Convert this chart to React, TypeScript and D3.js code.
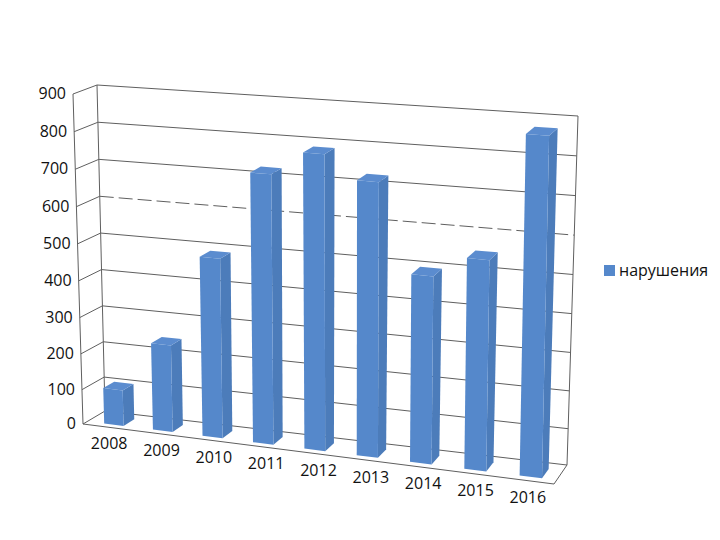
import * as d3 from 'd3'

const YEARS = ['2008', '2009', '2010', '2011', '2012', '2013', '2014', '2015', '2016']
const VIOLATIONS = [103, 243, 490, 724, 787, 727, 498, 553, 878]
const Y_TICKS = [0, 100, 200, 300, 400, 500, 600, 700, 800, 900]
const SERIES_NAME = 'нарушения'

const FONT = '"Open Sans", "Noto Sans", sans-serif'
const GRID = '#5f5f5f'

// box corners of the 3D chart as they land on the page
const FRONT = { bl: [83, 424], br: [554, 484], tl: [73, 94], tr: [561, 131] }
const BACK = { bl: [105, 411], br: [567, 465], tl: [97, 85], tr: [578, 116] }

const uScale = d3.scaleLinear().domain([0, YEARS.length]).range([0, 1])
const vScale = d3.scalePow().exponent(1.03).domain([0, 900]).range([0, 1])

const BAR_WIDTH = 0.4
// bars drift with the perspective, labels and grid do not
const barU = (u: number) => u / (1 + 0.085 * (1 - u)) + 0.005

const mix = (a: number[], b: number[], t: number) => [a[0] + (b[0] - a[0]) * t, a[1] + (b[1] - a[1]) * t]

function project(u: number, v: number, w: number) {
  const face = (f: typeof FRONT) => mix(mix(f.bl, f.br, u), mix(f.tl, f.tr, u), v)
  return mix(face(FRONT), face(BACK), w)
}

const line = d3.line<number[]>()
const poly = (pts: number[][]) => line(pts) + 'Z'

export default function App() {
  const v0 = vScale(0)
  const v1 = vScale(900)
  return (
    <svg width={720} height={540} style={{ position: 'absolute', left: 0, top: 0 }}>
      <rect width={720} height={540} fill="#fff" />
      <g fill="none" stroke={GRID} strokeWidth={1}>
        {Y_TICKS.map((t) => {
          const v = vScale(t)
          return (
            <g key={t}>
              <path d={line([project(0, v, 0), project(0, v, 1)]) as string} />
              <path
                d={line([project(0, v, 1), project(1, v, 1)]) as string}
                strokeDasharray={t === 600 ? '14 5' : undefined}
              />
            </g>
          )
        })}
        <path d={line([project(0, v0, 0), project(0, v1, 0)]) as string} />
        <path d={line([project(0, v0, 1), project(0, v1, 1)]) as string} />
        <path d={line([project(1, v0, 1), project(1, v1, 1)]) as string} />
        <path d={line([project(0, v0, 0), project(1, v0, 0), project(1, v0, 1)]) as string} />
      </g>

      {VIOLATIONS.map((val, i) => {
        const a = barU(uScale(i + 0.5 - BAR_WIDTH / 2))
        const b = barU(uScale(i + 0.5 + BAR_WIDTH / 2))
        const vt = vScale(val)
        const w0 = 0.2
        const w1 = 0.7
        return (
          <g key={YEARS[i]}>
            <path
              d={poly([project(b, v0, w0), project(b, v0, w1), project(b, vt, w1), project(b, vt, w0)])}
              fill="#4c7cba"
            />
            <path
              d={poly([project(a, vt, w0), project(b, vt, w0), project(b, vt, w1), project(a, vt, w1)])}
              fill="#5b8ccf"
            />
            <path
              d={poly([project(a, v0, w0), project(b, v0, w0), project(b, vt, w0), project(a, vt, w0)])}
              fill="#5588cb"
            />
          </g>
        )
      })}

      <g fontFamily={FONT} fontSize={16} fill="#111">
        {Y_TICKS.map((t) => {
          const [x, y] = project(0, vScale(t), 0)
          return (
            <text key={t} x={x - 7} y={y - 1} textAnchor="end" dominantBaseline="central">
              {t}
            </text>
          )
        })}
        {YEARS.map((yr, i) => {
          const [x, y] = project(uScale(i + 0.5), v0, 0)
          return (
            <text key={yr} x={x} y={y + 16} textAnchor="middle" dominantBaseline="central">
              {yr}
            </text>
          )
        })}
        <rect x={604} y={265} width={11} height={11} fill="#5588cb" />
        <text x={619} y={270} dominantBaseline="central">
          {SERIES_NAME}
        </text>
      </g>
    </svg>
  )
}
